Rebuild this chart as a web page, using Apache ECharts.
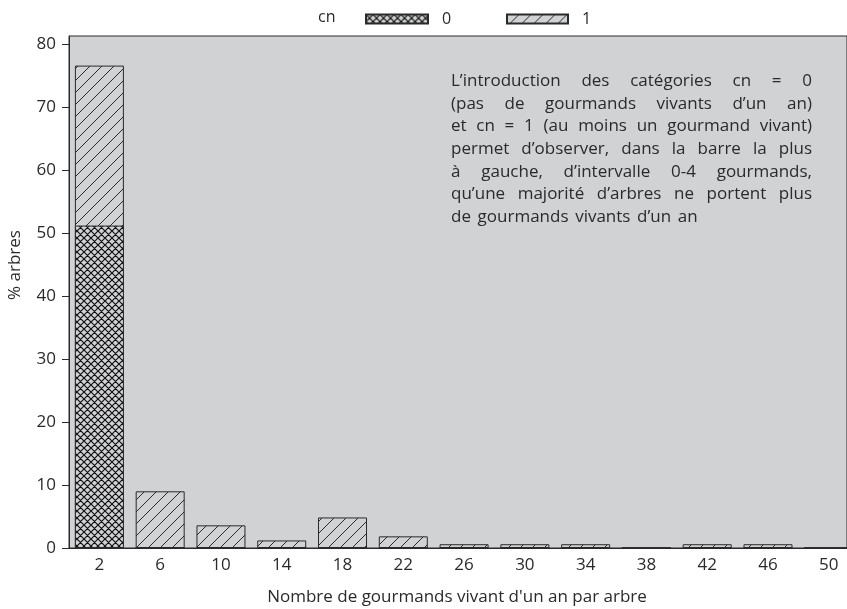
<!DOCTYPE html>
<html>
<head>
<meta charset="utf-8">
<script src="https://cdn.jsdelivr.net/npm/echarts@6/dist/echarts.min.js"></script>
<style>
  html, body { margin: 0; padding: 0; background: #fff; }
  #chart { width: 847px; height: 609px; }
</style>
</head>
<body>
<div id="chart"></div>
<script>
// centres des classes de 4 gourmands
const classes = [2, 6, 10, 14, 18, 22, 26, 30, 34, 38, 42, 46, 50];
// % arbres, cn = 0 (aucun gourmand vivant d'un an)
const cn0 = [51.2, 0, 0, 0, 0, 0, 0, 0, 0, 0, 0, 0, 0];
// % arbres, cn = 1 (au moins un gourmand vivant)
const cn1 = [25.4, 9.0, 3.6, 1.2, 4.85, 1.85, 0.6, 0.6, 0.6, 0, 0.6, 0.6, 0];
const yTicks = [0, 10, 20, 30, 40, 50, 60, 70, 80];
const noteLines = [
  "L’introduction des catégories cn = 0",
  "(pas de gourmands vivants d’un an)",
  "et cn = 1 (au moins un gourmand vivant)",
  "permet d’observer, dans la barre la plus",
  "à gauche, d’intervalle 0-4 gourmands,",
  "qu’une majorité d’arbres ne portent plus",
  "de gourmands vivants d’un an"
];

const FONT = '"Open Sans", "DejaVu Sans", sans-serif';
const BG = "#d1d2d4";
const INK = "#2a2a2a";

// motif hachuré "/"
function hatchPattern(size) {
  const c = document.createElement("canvas");
  c.width = size; c.height = size;
  const ctx = c.getContext("2d");
  ctx.fillStyle = BG;
  ctx.fillRect(0, 0, size, size);
  ctx.strokeStyle = INK;
  ctx.lineWidth = 1;
  ctx.beginPath();
  ctx.moveTo(0, size); ctx.lineTo(size, 0);
  ctx.moveTo(-1, 1); ctx.lineTo(1, -1);
  ctx.moveTo(size - 1, size + 1); ctx.lineTo(size + 1, size - 1);
  ctx.stroke();
  return c;
}

// motif quadrillé (croisillons)
function crossPattern(size) {
  const c = document.createElement("canvas");
  c.width = size; c.height = size;
  const ctx = c.getContext("2d");
  ctx.fillStyle = BG;
  ctx.fillRect(0, 0, size, size);
  ctx.strokeStyle = "#111";
  ctx.lineWidth = 1.2;
  ctx.beginPath();
  ctx.moveTo(0, size); ctx.lineTo(size, 0);
  ctx.moveTo(-1, 1); ctx.lineTo(1, -1);
  ctx.moveTo(size - 1, size + 1); ctx.lineTo(size + 1, size - 1);
  ctx.moveTo(0, 0); ctx.lineTo(size, size);
  ctx.moveTo(-1, size - 1); ctx.lineTo(1, size + 1);
  ctx.moveTo(size - 1, -1); ctx.lineTo(size + 1, 1);
  ctx.stroke();
  return c;
}

// texte justifié : un élément par mot
function noteGraphics(x0, yFirst, width, lineH, fontSize) {
  const font = fontSize + "px " + FONT;
  const ctx = document.createElement("canvas").getContext("2d");
  ctx.font = font;
  const out = [];
  noteLines.forEach((line, li) => {
    const words = line.split(" ");
    const ws = words.map(w => ctx.measureText(w).width);
    const sum = ws.reduce((a, b) => a + b, 0);
    const last = li === noteLines.length - 1;
    const gap = last ? ctx.measureText(" ").width * 1.5 : (width - sum) / (words.length - 1);
    let x = x0;
    words.forEach((w, i) => {
      out.push({
        type: "text",
        x: x, y: yFirst + li * lineH,
        style: { text: w, font: font, fill: INK, verticalAlign: "middle" }
      });
      x += ws[i] + gap;
    });
  });
  return out;
}

const chart = echarts.init(document.getElementById("chart"));

const option = {
  animation: false,
  textStyle: { fontFamily: FONT, color: INK },
  grid: {
    left: 69, right: -1, top: 36, bottom: 61,
    show: true, backgroundColor: BG, borderColor: INK, borderWidth: 1
  },
  legend: [
    {
      data: ["0"], left: 360, top: 6, icon: "rect",
      itemWidth: 62, itemHeight: 9,
      textStyle: { fontSize: 16, color: INK, padding: [0, 0, 0, 9] }
    },
    {
      data: ["1"], left: 501, top: 6, icon: "rect",
      itemWidth: 61, itemHeight: 9,
      textStyle: { fontSize: 16, color: INK, padding: [0, 0, 0, 9] }
    }
  ],
  xAxis: {
    type: "value", min: 0, max: 51.2,
    axisLine: { show: true, lineStyle: { color: INK, width: 1 } },
    axisTick: { show: false },
    splitLine: { show: false },
    axisLabel: { customValues: classes, fontSize: 17, color: INK, margin: 9 }
  },
  yAxis: {
    type: "value", min: 0, max: 81.3,
    axisLine: { show: true, lineStyle: { color: INK, width: 1 } },
    axisTick: { show: true, length: 7, customValues: yTicks, lineStyle: { color: INK } },
    splitLine: { show: false },
    axisLabel: { customValues: yTicks, fontSize: 17, color: INK, margin: 13 }
  },
  series: [
    {
      // cn = 1 empilé au-dessus de cn = 0 : barre du total, derrière
      name: "1", type: "bar", barWidth: 49, barGap: "-100%", z: 2,
      itemStyle: { color: { image: hatchPattern(12), repeat: "repeat" }, borderColor: INK, borderWidth: 1 },
      data: classes.map((c, i) => [c, cn0[i] + cn1[i]])
    },
    {
      name: "0", type: "bar", barWidth: 49, barGap: "-100%", z: 3,
      itemStyle: { color: { image: crossPattern(7), repeat: "repeat" }, borderColor: INK, borderWidth: 1 },
      data: classes.map((c, i) => [c, cn0[i]])
    }
  ],
  graphic: [
    {
      type: "text", x: 318, y: 17,
      style: { text: "cn", font: "16px " + FONT, fill: INK, verticalAlign: "middle" }
    },
    {
      type: "text", x: 15, y: 265, rotation: Math.PI / 2,
      style: { text: "% arbres", font: "17px " + FONT, fill: INK, align: "center", verticalAlign: "middle" }
    },
    {
      type: "text", x: 457, y: 597,
      style: { text: "Nombre de gourmands vivant d'un an par arbre", font: "17px " + FONT, fill: INK, align: "center", verticalAlign: "middle" }
    }
  ].concat(noteGraphics(451, 81, 361, 22.7, 17))
};

chart.setOption(option);
</script>
</body>
</html>
